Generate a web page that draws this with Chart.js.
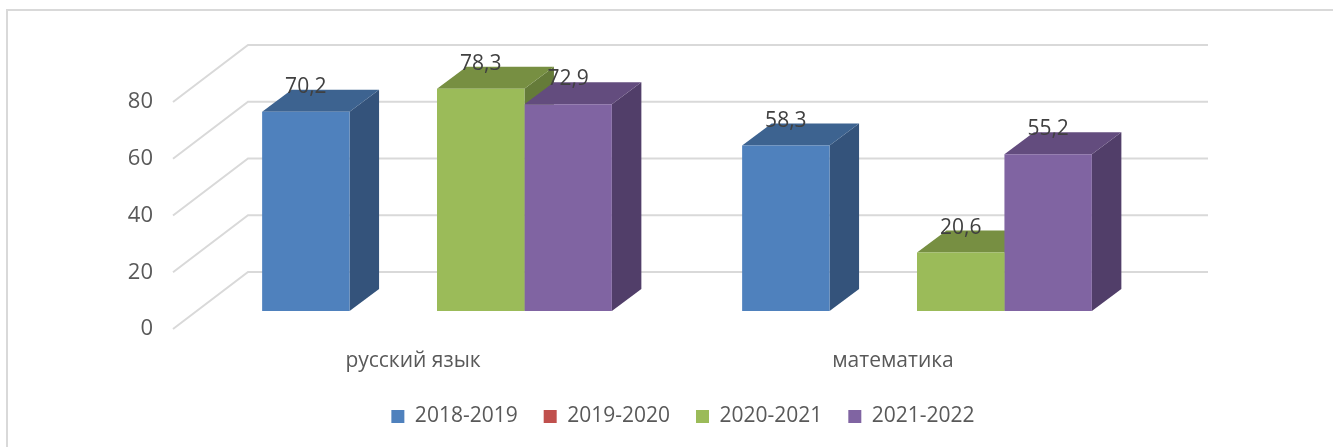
<!DOCTYPE html>
<html>
<head>
<meta charset="utf-8">
<script src="https://cdn.jsdelivr.net/npm/chart.js@4/dist/chart.umd.min.js"></script>
<style>
  html,body{margin:0;padding:0;background:#fff;}
  #wrap{width:1333px;height:447px;}
</style>
</head>
<body>
<div id="wrap"><canvas id="c" width="1333" height="447"></canvas></div>
<script>
/* DATA */
const categories = ['русский язык', 'математика'];
const seriesNames = ['2018-2019', '2019-2020', '2020-2021', '2021-2022'];
const s2018 = [70.2, 58.3];
const s2019 = [null, null];
const s2020 = [78.3, 20.6];
const s2021 = [72.9, 55.2];
const yTicks = [0, 20, 40, 60, 80];

/* colours: front, top, side */
const front = ['#4F81BD', '#C0504D', '#9BBB59', '#8064A2'];
const topC  = ['#3D6390', '#943C3A', '#778F42', '#634C7E'];
const sideC = ['#34537B', '#7F3331', '#657B39', '#513E69'];

const FONT = '"Open Sans", "DejaVu Sans", sans-serif';
const BAR_DX = 29.5, BAR_DY = -22;      // bar depth
const BACK_DX = 51, BACK_DY = -39;      // bar plane -> back wall
const FRONT_DX = -24, FRONT_DY = 18;    // bar plane -> front floor edge
const fmt = (v)=> v.toFixed(1).replace('.', ',');

/* 3D grid + bar sides/tops */
const depth3d = {
  id: 'depth3d',
  beforeDraw(chart){
    const ctx = chart.ctx;
    ctx.save();
    ctx.strokeStyle = '#d9d9d9';
    ctx.lineWidth = 2;
    ctx.beginPath();
    ctx.moveTo(7, 460); ctx.lineTo(7, 10); ctx.lineTo(1340, 10);
    ctx.stroke();
    ctx.restore();
  },
  afterLayout(chart){
    if(chart.legend){ chart.legend.left += 6; chart.legend.right += 6; }
  },
  beforeDatasetsDraw(chart){
    const {ctx, chartArea:a, scales:{y}} = chart;
    ctx.save();
    ctx.strokeStyle = '#d9d9d9';
    ctx.lineWidth = 2;
    yTicks.forEach(v=>{
      const py = y.getPixelForValue(v);
      ctx.beginPath();
      ctx.moveTo(a.left + FRONT_DX, py + FRONT_DY);
      ctx.lineTo(a.left + BACK_DX, py + BACK_DY);
      ctx.lineTo(a.right + BACK_DX, py + BACK_DY);
      ctx.stroke();
    });
    // sides and tops, painted left to right
    const bars = [];
    chart.data.datasets.forEach((ds, di)=>{
      chart.getDatasetMeta(di).data.forEach((el, i)=>{
        if(ds.data[i] == null) return;
        const p = el.getProps(['x','y','base','width'], true);
        bars.push({di, ...p});
      });
    });
    bars.sort((a,b)=> a.x - b.x);
    bars.forEach(b=>{
      const l = b.x - b.width/2, r = b.x + b.width/2;
      ctx.fillStyle = sideC[b.di];
      ctx.beginPath();
      ctx.moveTo(r, b.y); ctx.lineTo(r + BAR_DX, b.y + BAR_DY);
      ctx.lineTo(r + BAR_DX, b.base + BAR_DY); ctx.lineTo(r, b.base);
      ctx.closePath(); ctx.fill();
      ctx.fillStyle = topC[b.di];
      ctx.beginPath();
      ctx.moveTo(l, b.y); ctx.lineTo(l + BAR_DX, b.y + BAR_DY);
      ctx.lineTo(r + BAR_DX, b.y + BAR_DY); ctx.lineTo(r, b.y);
      ctx.closePath(); ctx.fill();
    });
    ctx.restore();
  },
  afterDatasetsDraw(chart){
    const ctx = chart.ctx;
    ctx.save();
    ctx.font = '21px ' + FONT;
    ctx.fillStyle = '#404040';
    ctx.textAlign = 'center';
    ctx.textBaseline = 'middle';
    chart.data.datasets.forEach((ds, di)=>{
      chart.getDatasetMeta(di).data.forEach((el, i)=>{
        const v = ds.data[i];
        if(v == null) return;
        const p = el.getProps(['x','y'], true);
        ctx.fillText(fmt(v), p.x, p.y - 25);
      });
    });
    ctx.restore();
  }
};

new Chart(document.getElementById('c'), {
  type: 'bar',
  data: {
    labels: categories,
    datasets: [
      {label: seriesNames[0], data: s2018, backgroundColor: front[0]},
      {label: seriesNames[1], data: s2019, backgroundColor: front[1]},
      {label: seriesNames[2], data: s2020, backgroundColor: front[2]},
      {label: seriesNames[3], data: s2021, backgroundColor: front[3]}
    ]
  },
  options: {
    responsive: false,
    animation: false,
    datasets: {bar: {categoryPercentage: 0.7286, barPercentage: 1, borderWidth: 0}},
    layout: {padding: {left: 0, right: 176, top: 84, bottom: 10}},
    plugins: {
      legend: {
        position: 'bottom',
        fullSize: false,
        labels: {
          boxWidth: 13, boxHeight: 13, padding: 26,
          color: '#595959', font: {family: FONT, size: 21}
        }
      },
      tooltip: {enabled: false}
    },
    scales: {
      x: {
        grid: {display: false, drawTicks: false},
        border: {display: false},
        ticks: {color: '#595959', font: {family: FONT, size: 21}, labelOffset: FRONT_DX, padding: 37},
        afterFit(s){ s.height = 69; }
      },
      y: {
        min: 0, max: 80,
        grid: {display: false, drawTicks: false},
        border: {display: false},
        ticks: {stepSize: 20, color: '#595959', font: {family: FONT, size: 22}, labelOffset: FRONT_DY, padding: 44},
        afterFit(s){ s.width = 197; }
      }
    }
  },
  plugins: [depth3d]
});
</script>
</body>
</html>
